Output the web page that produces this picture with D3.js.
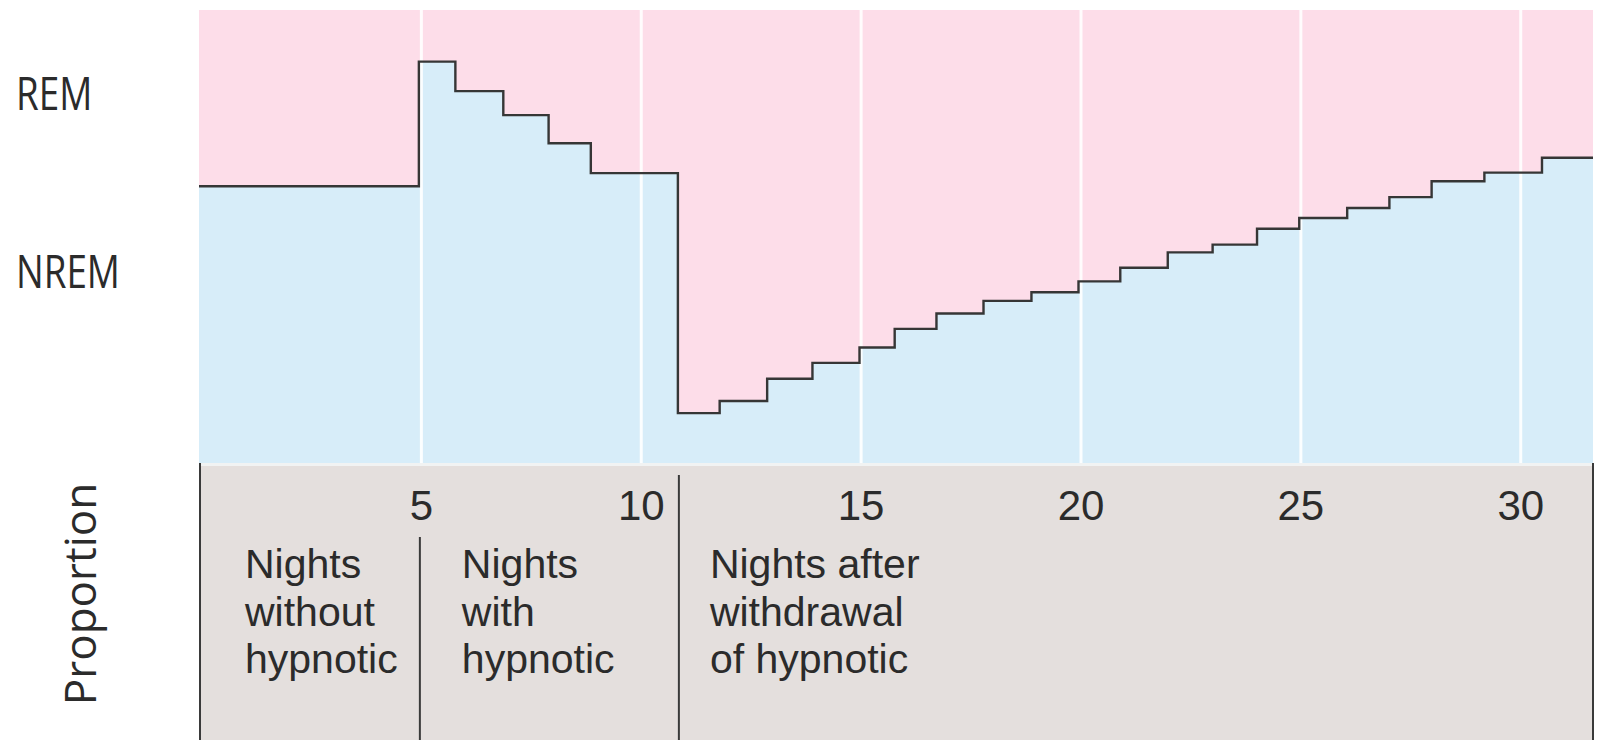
<!DOCTYPE html>
<html>
<head>
<meta charset="utf-8">
<script src="https://cdn.jsdelivr.net/npm/d3@7"></script>
<style>
  body { margin: 0; background: #fff; }
  text { font-family: "Open Sans", "Noto Sans", sans-serif; fill: #2b2b2b; }
  .panel-text { font-family: "Liberation Sans", Arial, sans-serif; }
</style>
</head>
<body>
<div id="container"></div>
<script>
var w = 1598,
  h = 740;

// night boundaries where the proportion changes
var nightBreaks = [0, 5, 5.83, 6.92, 7.95, 8.91, 10.89, 11.84, 12.92, 13.95, 15.02, 15.82, 16.77,
  17.84, 18.93, 20, 20.95, 22.03, 23.05, 24.06, 25.02, 26.11, 27.07, 28.03, 29.23, 30.54, 31.7];
// NREM share of the night for each interval
var nremShare = [0.611, 0.886, 0.821, 0.768, 0.706, 0.640, 0.110, 0.137, 0.186, 0.221, 0.255, 0.296,
  0.330, 0.358, 0.377, 0.401, 0.431, 0.465, 0.482, 0.517, 0.541, 0.563, 0.587, 0.622, 0.641, 0.674];
var tickNights = [5, 10, 15, 20, 25, 30];
var phaseStarts = [0, 5, 10.89];
var phaseLabels = [
  ["Nights", "without", "hypnotic"],
  ["Nights", "with", "hypnotic"],
  ["Nights after", "withdrawal", "of hypnotic"]
];
var stageLabels = ["REM", "NREM"];
var yTitle = "Proportion";

var plotLeft = 199, plotRight = 1593, plotTop = 10, plotBottom = 463, panelTop = 466;

var svg = d3.select("#container").append("svg")
  .attr("width", w)
  .attr("height", h);

var x = d3.scaleLinear()
  .domain([0, nightBreaks[nightBreaks.length - 1]])
  .range([plotLeft, plotRight]);

var y = d3.scaleLinear()
  .domain([0, 1])
  .range([plotBottom, plotTop]);

var points = nremShare.map(function (v, i) {
  return { night: nightBreaks[i], value: v };
});
points.push({ night: nightBreaks[nightBreaks.length - 1], value: nremShare[nremShare.length - 1] });

// REM background
svg.append("rect")
  .attr("x", x(0))
  .attr("y", y(1))
  .attr("width", plotRight - plotLeft)
  .attr("height", y(0) - y(1))
  .attr("fill", "#fddde9");

// NREM area
svg.append("path")
  .datum(points)
  .attr("fill", "#d7edf9")
  .attr("d", d3.area()
    .curve(d3.curveStepAfter)
    .x(d => x(d.night))
    .y0(y(0))
    .y1(d => y(d.value)));

// white grid lines
var grid = svg.append("g")
  .attr("transform", "translate(2," + y(0) + ")")
  .call(d3.axisBottom(x)
    .tickValues(tickNights)
    .tickSize(-(y(0) - y(1)))
    .tickFormat(""));
grid.select(".domain").remove();
grid.selectAll(".tick line")
  .attr("stroke", "#fff")
  .attr("stroke-opacity", 0.9)
  .attr("stroke-width", 3);

svg.append("path")
  .datum(points)
  .attr("fill", "none")
  .attr("stroke", "#363636")
  .attr("stroke-width", 2.4)
  .attr("d", d3.line()
    .curve(d3.curveStepAfter)
    .x(d => x(d.night))
    .y(d => y(d.value)));

// bottom panel
svg.append("rect")
  .attr("x", plotLeft)
  .attr("y", plotBottom)
  .attr("width", plotRight - plotLeft)
  .attr("height", panelTop - plotBottom)
  .attr("fill", "#f1f3f3");

svg.append("rect")
  .attr("x", plotLeft)
  .attr("y", panelTop)
  .attr("width", plotRight - plotLeft)
  .attr("height", h - panelTop)
  .attr("fill", "#e4dfdd");

var axis = svg.append("g")
  .attr("transform", "translate(2," + panelTop + ")")
  .call(d3.axisBottom(x)
    .tickValues(tickNights)
    .tickSize(0)
    .tickPadding(24));
axis.select(".domain").remove();
axis.selectAll("text")
  .attr("class", "panel-text")
  .attr("font-family", null)
  .attr("font-size", null)
  .style("font-size", "42px")
  .attr("fill", "#2b2b2b");

// panel borders and phase dividers
var dividerTops = [plotBottom, 537, 475];
phaseStarts.forEach(function (s, i) {
  svg.append("line")
    .attr("x1", x(s) + 1).attr("x2", x(s) + 1)
    .attr("y1", dividerTops[i]).attr("y2", h)
    .attr("stroke", "#3a3a3a")
    .attr("stroke-width", 2);
});
svg.append("line")
  .attr("x1", plotRight).attr("x2", plotRight)
  .attr("y1", plotBottom).attr("y2", h)
  .attr("stroke", "#3a3a3a")
  .attr("stroke-width", 2);

var labelDx = [46, 43, 32];
phaseLabels.forEach(function (lines, i) {
  var t = svg.append("text")
    .attr("class", "panel-text")
    .attr("transform", "translate(" + (x(phaseStarts[i]) + labelDx[i]) + ",578)")
    .style("font-size", "41px");
  t.selectAll("tspan")
    .data(lines)
    .enter()
    .append("tspan")
    .attr("x", 0)
    .attr("y", (d, j) => j * 47.5)
    .text(d => d);
});

svg.selectAll(".stage")
  .data(stageLabels)
  .enter()
  .append("text")
  .attr("class", "stage")
  .attr("transform", (d, i) => "translate(16," + (i ? 288 : 110) + ") scale(0.8,1)")
  .style("font-size", "46px")
  .text(d => d);

svg.append("text")
  .attr("transform", "translate(96,594) rotate(-90)")
  .attr("text-anchor", "middle")
  .style("font-size", "44px")
  .text(yTitle);
</script>
</body>
</html>
